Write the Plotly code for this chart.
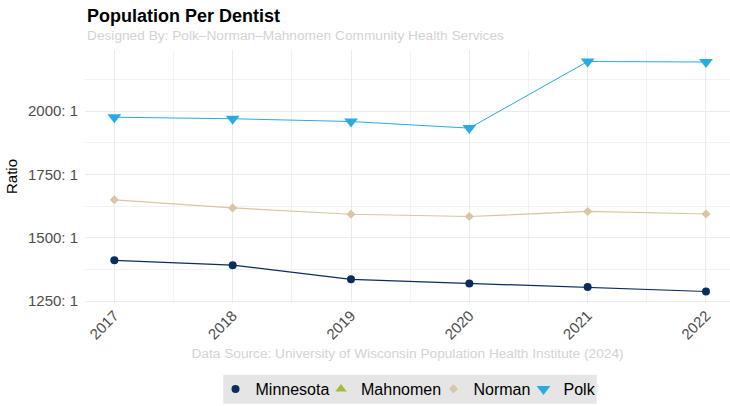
import plotly.graph_objects as go

# Population per dentist (N : 1), County Health Rankings
years = [2017, 2018, 2019, 2020, 2021, 2022]
minnesota = [1411, 1392, 1336, 1320, 1306, 1288]
mahnomen = [None, None, None, None, None, None]
norman = [1650, 1618, 1593, 1584, 1604, 1594]
polk = [1976, 1970, 1959, 1933, 2196, 2194]

y_ticks = [1250, 1500, 1750, 2000]
y_tick_labels = [f"{v}: 1" for v in y_ticks]

series = [
    ("Minnesota", minnesota, "#0a2d5e", "circle", 8, 1.2),
    ("Mahnomen", mahnomen, "#a6bb3a", "triangle-up", 10, 1.0),
    ("Norman", norman, "#d8c6a4", "diamond", 7, 1.2),
    ("Polk", polk, "#29abe2", "triangle-down", 12, 1.0),
]

FONT = "Liberation Sans, Arial, sans-serif"

# plot-area geometry in pixels
W, H = 730, 406
L, R, T, B = 85, 0, 49.5, 103.2
PW, PH = W - L - R, H - T - B


def px_x(px):
    return (px - L) / PW


def px_y(py):
    return (H - B - py) / PH


fig = go.Figure()
legend_ids = ["legend", "legend2", "legend3", "legend4"]
for (name, vals, color, symbol, msize, lw), lid in zip(series, legend_ids):
    # connecting line (kept out of the legend so keys show only the point shape)
    fig.add_trace(go.Scatter(
        x=years, y=vals, mode="lines", showlegend=False, hoverinfo="skip",
        line=dict(color=color, width=lw),
    ))
    fig.add_trace(go.Scatter(
        x=years, y=vals, mode="markers", name=name, legend=lid,
        marker=dict(color=color, symbol=symbol, size=msize, line=dict(width=0)),
    ))

# one single-entry legend per series, laid out in a row on a shared grey band
legend_lefts = [215.5, 321, 433.5, 523.5]
legend_layout = {}
for lid, left in zip(legend_ids, legend_lefts):
    legend_layout[lid] = dict(
        x=px_x(left), xanchor="left", y=px_y(389.3), yanchor="middle",
        bgcolor="rgba(0,0,0,0)", font=dict(size=16, color="black"),
        itemwidth=30, orientation="h",
    )

fig.add_shape(
    type="rect", xref="paper", yref="paper", layer="below",
    x0=px_x(223.3), x1=px_x(596.7), y0=px_y(403.7), y1=px_y(374.7),
    fillcolor="#e5e5e5", line=dict(width=0),
)

fig.add_annotation(
    text="<b>Population Per Dentist</b>", xref="paper", yref="paper",
    x=0, xanchor="left", y=px_y(15), yanchor="middle", showarrow=False,
    font=dict(family=FONT, size=18, color="black"),
)
fig.add_annotation(
    text="Designed By: Polk\u2013Norman\u2013Mahnomen Community Health Services",
    xref="paper", yref="paper",
    x=0, xanchor="left", y=px_y(34.5), yanchor="middle", showarrow=False,
    font=dict(family=FONT, size=13.7, color="#d3d3d3"),
)

fig.update_layout(
    width=W, height=H,
    margin=dict(l=L, r=R, t=T, b=B),
    paper_bgcolor="white", plot_bgcolor="white",
    font=dict(family=FONT, color="#4d4d4d", size=15),
    xaxis=dict(
        range=[2016.752, 2022.203],
        tickvals=years, ticktext=[str(y) for y in years],
        tickangle=-45, ticks="", showline=False, zeroline=False,
        showgrid=True, gridcolor="#ebebeb", gridwidth=1.1,
        minor=dict(dtick=0.5, tick0=2016.5, showgrid=True, gridcolor="#f2f2f2", gridwidth=0.6),
        tickfont=dict(size=15, color="#4d4d4d"),
        title=dict(
            text="Data Source: University of Wisconsin Population Health Institute (2024)",
            font=dict(size=13.7, color="#d3d3d3"), standoff=6,
        ),
    ),
    yaxis=dict(
        range=[1242.6, 2241.4],
        tickvals=y_ticks, ticktext=y_tick_labels,
        ticks="", showline=False, zeroline=False,
        showgrid=True, gridcolor="#ebebeb", gridwidth=1.1,
        minor=dict(dtick=125, tick0=1250, showgrid=True, gridcolor="#f2f2f2", gridwidth=0.6),
        tickfont=dict(size=15, color="#4d4d4d"),
        ticklabelstandoff=6,
        title=dict(text="Ratio", font=dict(size=15, color="black"), standoff=6),
    ),
    **legend_layout,
)

fig.write_html("out.html")
